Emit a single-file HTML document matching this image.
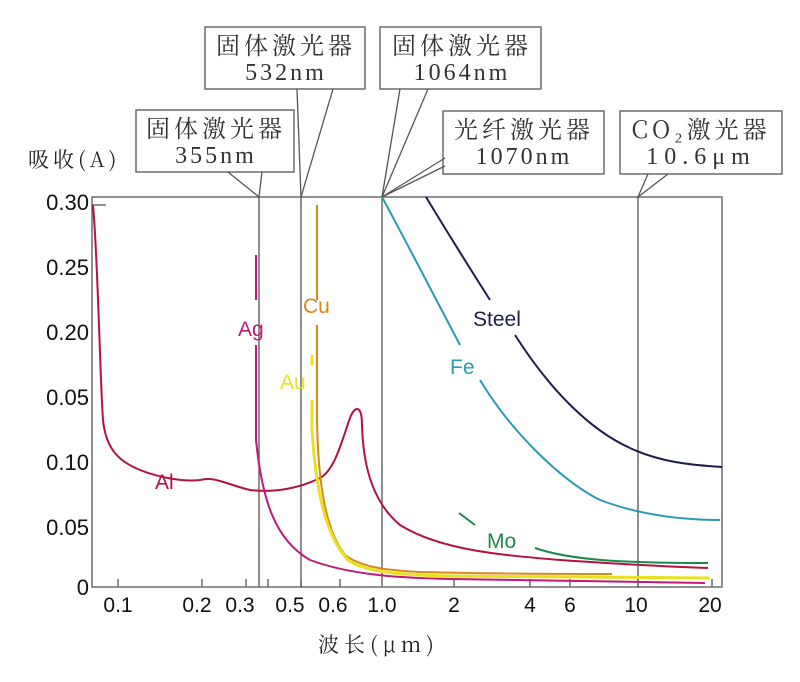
<!DOCTYPE html>
<html><head><meta charset="utf-8"><style>
body{margin:0;background:#fff;}
svg{display:block;font-family:"Liberation Sans","Noto Sans CJK SC",sans-serif;}
.cj{font-family:"Noto Serif CJK SC","Liberation Serif",serif;}
.mono{font-family:"Liberation Serif",serif;}
</style></head><body>
<svg width="800" height="682" viewBox="0 0 800 682">
<rect width="800" height="682" fill="#fff"/>
<g fill="none" stroke="#555" stroke-width="1.3">
<rect x="92" y="197" width="630" height="390"/>
<line x1="259" y1="197" x2="259" y2="587"/>
<line x1="301" y1="197" x2="301" y2="587"/>
<line x1="382" y1="197" x2="382" y2="587"/>
<line x1="638" y1="197" x2="638" y2="587"/>
<rect x="136" y="110" width="158" height="62"/>
<rect x="205" y="27" width="160" height="62"/>
<rect x="380" y="27" width="161" height="62"/>
<rect x="443" y="111" width="161" height="63"/>
<rect x="620" y="111" width="162" height="63"/>
<polyline points="228,172 259,197 262,172"/>
<polyline points="297,89 301,197 333,89"/>
<polyline points="382,197 400,89"/>
<polyline points="382,197 428,89"/>
<polyline points="382,197 445,166"/>
<polyline points="382,197 445,158"/>
<polyline points="648,174 638,197 668,174"/>
<path d="M118 587v-8M202 587v-8M246 587v-8M268 587v-8M301 587v-8M340 587v-8M454 587v-8M530 587v-8M570 587v-8M638 587v-8M712 587v-8"/>
<path d="M92 205h14"/>
</g>
<g fill="none" stroke-width="2">
<path stroke="#b5123f" d="M93,205 C98,260 100,380 103,420 C106,450 120,462 140,470 C160,478 185,482 200,480 C215,476 225,484 250,490 C275,493 300,488 320,478 C335,470 342,440 350,418 C355,405 362,405 362,425 C363,460 370,500 400,525 C440,550 500,555 560,560 C620,564 670,567 708,568"/>
<path stroke="#c2187a" d="M256,255 V300 M256,345 V440 C262,500 275,540 310,560 C350,575 400,578 450,579 C550,581 650,582 705,583"/>
<path stroke="#d9881a" d="M317,205 V300 M317,325 V420 C318,480 325,530 345,555 C360,566 380,570 420,572 C500,574 580,574 612,574"/>
<path stroke="#e8e020" stroke-width="3" d="M312,355 V365 M312,400 V430 C316,490 325,535 348,560 C365,572 400,575 450,576 C550,577 650,578 710,578"/>
<path stroke="#2a9bb5" d="M382,197 C400,230 418,265 460,345 M480,380 C510,430 560,480 600,500 C640,515 680,520 720,520"/>
<path stroke="#1c1f4e" d="M426,197 C440,220 455,245 490,300 M515,335 C550,390 590,430 630,448 C660,462 690,465 722,467"/>
<path stroke="#1a8a4a" d="M459,513 L475,525 M535,548 C570,560 620,563 708,563"/>
</g>
<g font-size="21">
<text x="155" y="489" fill="#b5123f">Al</text>
<text x="238" y="336" fill="#c2187a">Ag</text>
<text x="303" y="313" fill="#d9881a">Cu</text>
<text x="280" y="389" fill="#e8e020">Au</text>
<text x="473" y="326" fill="#1c1f4e">Steel</text>
<text x="450" y="374" fill="#2a9bb5">Fe</text>
<text x="487" y="548" fill="#1a8a4a">Mo</text>
</g>
<g font-size="22" fill="#111" text-anchor="end">
<text x="89" y="210">0.30</text>
<text x="89" y="275">0.25</text>
<text x="89" y="340">0.20</text>
<text x="89" y="405">0.05</text>
<text x="89" y="470">0.10</text>
<text x="89" y="535">0.05</text>
<text x="89" y="595">0</text>
</g>
<text x="28" y="167" font-size="21" letter-spacing="4" class="cj" fill="#222">吸收(A)</text>
<g font-size="21" fill="#111" text-anchor="middle">
<text x="118" y="612">0.1</text>
<text x="197" y="612">0.2</text>
<text x="240" y="612">0.3</text>
<text x="290" y="612">0.5</text>
<text x="333" y="612">0.6</text>
<text x="382" y="612">1.0</text>
<text x="454" y="612">2</text>
<text x="530" y="612">4</text>
<text x="570" y="612">6</text>
<text x="636" y="612">10</text>
<text x="710" y="612">20</text>
</g>
<text x="318" y="652" font-size="21" letter-spacing="5" class="cj" fill="#222">波长(μm)</text>
<g font-size="24" fill="#333" text-anchor="middle" class="cj" letter-spacing="4">
<text x="216" y="137">固体激光器</text><text x="216" y="163" class="mono" font-size="24" letter-spacing="3">355nm</text>
<text x="286" y="54">固体激光器</text><text x="286" y="80" class="mono" font-size="24" letter-spacing="3">532nm</text>
<text x="462" y="54">固体激光器</text><text x="462" y="80" class="mono" font-size="24" letter-spacing="3">1064nm</text>
<text x="524" y="138">光纤激光器</text><text x="524" y="164" class="mono" font-size="24" letter-spacing="3">1070nm</text>
<text x="701" y="138">CO₂激光器</text><text x="701" y="164" class="mono" font-size="24" letter-spacing="6">10.6μm</text>
</g>
</svg>
</body></html>
